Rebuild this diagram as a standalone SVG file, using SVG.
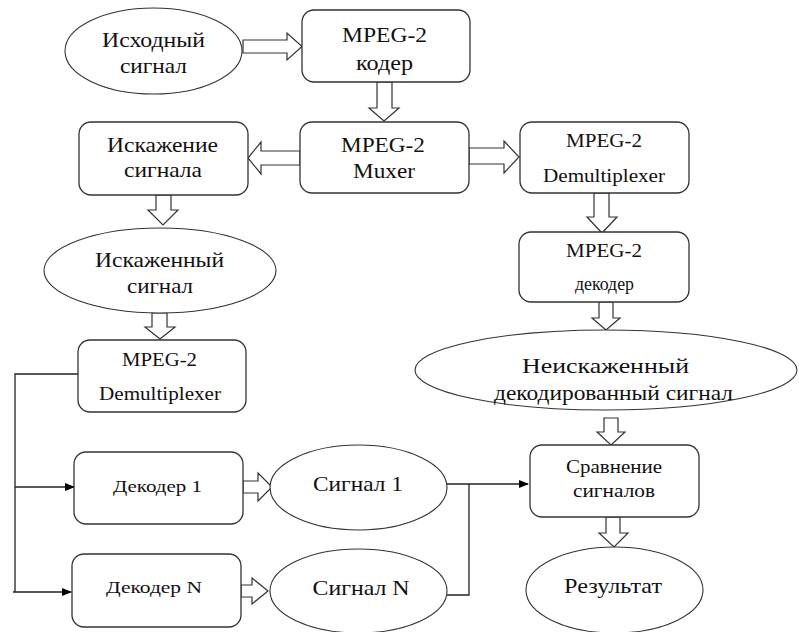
<svg xmlns="http://www.w3.org/2000/svg" width="799" height="632" viewBox="0 0 799 632" font-family="'Liberation Serif', 'Times New Roman', serif">
<defs>
<marker id="ah" markerWidth="10" markerHeight="8" refX="9" refY="4" orient="auto" markerUnits="userSpaceOnUse">
<path d="M0,0 L10,4 L0,8 Z" fill="#000"/>
</marker>
<style>
.box{fill:#fff;stroke:#333;stroke-width:1.3}
.ell{fill:#fff;stroke:#333;stroke-width:1.1}
.barr{fill:#fff;stroke:#333;stroke-width:1.2;stroke-linejoin:miter}
.ln{fill:none;stroke:#222;stroke-width:1.3}
text{font-family:"Liberation Serif","Times New Roman",serif;fill:#111;text-anchor:middle}
.t21{font-size:21px}
.t18{font-size:18.5px}
.t17{font-size:17px}
</style>
</defs>
<rect width="799" height="632" fill="#fff"/>

<g id="connectors">
<polygon class="barr" points="243,40 287,40 287,33 302,46.5 287,60 287,53 243,53"/>
<polygon class="barr" points="377,82 392,82 392,108 399,108 384,121 369,108 377,108"/>
<polygon class="barr" points="300,151 261,151 261,142 248,158 261,174 261,165 300,165"/>
<polygon class="barr" points="469,148 504,148 504,141 519,157 504,173 504,164 469,164"/>
<polygon class="barr" points="156,195 171,195 171,210 178,210 163,225 148,210 156,210"/>
<polygon class="barr" points="152,313 167,313 167,327 175,327 160,339 145,327 152,327"/>
<polygon class="barr" points="594,193 609,193 609,217 617,217 602,233 587,217 594,217"/>
<polygon class="barr" points="599,302 613,302 613,318 620,318 606,330 592,318 599,318"/>
<polygon class="barr" points="604,418 618,418 618,432 625,432 611,445 597,432 604,432"/>
<polygon class="barr" points="606,517 620,517 620,533 628,533 614,547 599,533 606,533"/>
<polygon class="barr" points="243,481 258,481 258,473 272,487 258,501 258,493 243,493"/>
<polygon class="barr" points="241,585 252,585 252,578 268,591 252,604 252,597 241,597"/>
<path class="ln" d="M78,374 H15 V592"/>
<path class="ln" d="M15,487 H74" marker-end="url(#ah)"/>
<path class="ln" d="M13,592 H71" marker-end="url(#ah)"/>
<path class="ln" d="M447,595 H469 V484"/>
<path class="ln" d="M447,484 H528" marker-end="url(#ah)"/>
</g>

<g id="src">
<ellipse class="ell" cx="153.5" cy="51" rx="88.5" ry="43"/>
<text class="t21" x="153.5" y="47" textLength="103" lengthAdjust="spacingAndGlyphs">Исходный</text>
<text class="t21" x="153.5" y="73" textLength="67" lengthAdjust="spacingAndGlyphs">сигнал</text>
</g>
<g id="encoder">
<rect class="box" x="302" y="10" width="168" height="72" rx="12"/>
<text class="t21" x="384.5" y="42" textLength="85" lengthAdjust="spacingAndGlyphs">MPEG-2</text>
<text class="t21" x="384.5" y="70" textLength="57" lengthAdjust="spacingAndGlyphs">кодер</text>
</g>
<g id="muxer">
<rect class="box" x="300" y="122" width="169" height="71" rx="12"/>
<text class="t21" x="383" y="152" textLength="84" lengthAdjust="spacingAndGlyphs">MPEG-2</text>
<text class="t21" x="384" y="178" textLength="62" lengthAdjust="spacingAndGlyphs">Muxer</text>
</g>
<g id="distort">
<rect class="box" x="79" y="122" width="169" height="73" rx="12"/>
<text class="t21" x="162.5" y="152" textLength="111" lengthAdjust="spacingAndGlyphs">Искажение</text>
<text class="t21" x="163" y="177" textLength="78" lengthAdjust="spacingAndGlyphs">сигнала</text>
</g>
<g id="demuxR">
<rect class="box" x="520" y="122" width="169" height="71" rx="12"/>
<text class="t18" x="604" y="147" textLength="76" lengthAdjust="spacingAndGlyphs">MPEG-2</text>
<text class="t18" x="604" y="182" textLength="122" lengthAdjust="spacingAndGlyphs">Demultiplexer</text>
</g>
<g id="distorted">
<ellipse class="ell" cx="160" cy="270.5" rx="116" ry="42.5"/>
<text class="t21" x="159.5" y="267" textLength="129" lengthAdjust="spacingAndGlyphs">Искаженный</text>
<text class="t21" x="160" y="293" textLength="66" lengthAdjust="spacingAndGlyphs">сигнал</text>
</g>
<g id="demuxL">
<rect class="box" x="78" y="340" width="168" height="72" rx="12"/>
<text class="t18" x="159.5" y="366" textLength="75" lengthAdjust="spacingAndGlyphs">MPEG-2</text>
<text class="t18" x="160" y="400" textLength="122" lengthAdjust="spacingAndGlyphs">Demultiplexer</text>
</g>
<g id="decoderR">
<rect class="box" x="519" y="232" width="170" height="70" rx="12"/>
<text class="t18" x="604" y="257" textLength="76" lengthAdjust="spacingAndGlyphs">MPEG-2</text>
<text class="t18" x="604.5" y="290" textLength="59" lengthAdjust="spacingAndGlyphs">декодер</text>
</g>
<g id="undistorted">
<ellipse class="ell" cx="606" cy="370" rx="191" ry="40"/>
<text class="t21" x="605.5" y="373" textLength="167" lengthAdjust="spacingAndGlyphs">Неискаженный</text>
<text class="t21" x="613.5" y="400" textLength="239" lengthAdjust="spacingAndGlyphs">декодированный сигнал</text>
</g>
<g id="dec1">
<rect class="box" x="74" y="452" width="169" height="72" rx="12"/>
<text class="t17" x="157.5" y="492" textLength="89" lengthAdjust="spacingAndGlyphs">Декодер 1</text>
</g>
<g id="decN">
<rect class="box" x="72" y="554" width="169" height="73" rx="12"/>
<text class="t17" x="154" y="593" textLength="96" lengthAdjust="spacingAndGlyphs">Декодер N</text>
</g>
<g id="sig1">
<ellipse class="ell" cx="358.5" cy="487.5" rx="88.5" ry="42.5"/>
<text class="t21" x="358" y="491" textLength="90" lengthAdjust="spacingAndGlyphs">Сигнал 1</text>
</g>
<g id="sigN">
<ellipse class="ell" cx="358.5" cy="591" rx="88.5" ry="42"/>
<text class="t21" x="361" y="595" textLength="97" lengthAdjust="spacingAndGlyphs">Сигнал N</text>
</g>
<g id="compare">
<rect class="box" x="530" y="445" width="169" height="72" rx="12"/>
<text class="t18" x="614" y="473" textLength="96" lengthAdjust="spacingAndGlyphs">Сравнение</text>
<text class="t18" x="614" y="497" textLength="82" lengthAdjust="spacingAndGlyphs">сигналов</text>
</g>
<g id="result">
<ellipse class="ell" cx="614.5" cy="590" rx="88.5" ry="43"/>
<text class="t21" x="613" y="593" textLength="98" lengthAdjust="spacingAndGlyphs">Результат</text>
</g>
</svg>
